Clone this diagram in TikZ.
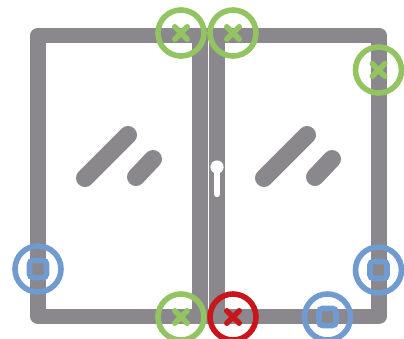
\documentclass[tikz,border=0pt]{standalone}
\usetikzlibrary{shapes.misc}
\definecolor{framegray}{HTML}{8A888D}
\definecolor{okgreen}{HTML}{92C562}
\definecolor{badred}{HTML}{C8161D}
\definecolor{pinblue}{HTML}{6F9BD1}

\begin{document}
\begin{tikzpicture}[
        x=0.025cm, y=-0.025cm,
        frameline/.style={draw=framegray, line width=0.375cm, line join=round},
        glare/.style={draw=framegray, line width=0.45cm, line cap=round},
        ring/.style={circle, draw=#1, line width=0.14cm, minimum size=1.15cm, inner sep=0pt},
        crossmark/.style={cross out, draw=#1, line width=0.14cm, line cap=round, minimum size=0.31cm, inner sep=0pt, outer sep=0pt},
        squaremark/.style={rectangle, rounded corners=2.5pt, draw=pinblue, line width=0.14cm, minimum size=0.425cm, inner sep=0pt}
    ]
    \useasboundingbox (0, 0) rectangle (404, 338);

    % Window frame and middle posts
    \draw[frameline] (38, 35) rectangle (379, 316.5);
    \fill[framegray] (192, 27.5) rectangle (225, 324);
    \draw[white, line width=0.03cm] (208.3, 27.5) -- (208.3, 324);

    % Glass reflections
    \draw[glare] (85, 178) -- (128, 135);
    \draw[glare] (136, 177) -- (153, 159);
    \draw[glare] (264, 178) -- (307, 135);
    \draw[glare] (315, 177) -- (332, 159);

    % Handle keyhole
    \fill[white] (217, 167) circle (0.165cm);
    \draw[white, line width=0.16cm, line cap=round] (217, 170) -- (217, 194);

    % Green locking points
    \node[ring=okgreen] (topleft) at (181, 33) {};
    \node[crossmark=okgreen] (topleftx) at (181, 33) {};
    \node[ring=okgreen] (topright) at (233, 33) {};
    \node[crossmark=okgreen] (toprightx) at (233, 33) {};
    \node[ring=okgreen] (side) at (378.5, 70) {};
    \node[crossmark=okgreen] (sidex) at (378.5, 70) {};
    \node[ring=okgreen] (bottomleft) at (181, 317) {};
    \node[crossmark=okgreen] (bottomleftx) at (181, 317) {};

    % Red locking point
    \node[ring=badred] (bottomright) at (233, 317) {};
    \node[crossmark=badred] (bottomrightx) at (233, 317) {};

    % Blue hinges
    \node[ring=pinblue] (hingeleft) at (38, 269) {};
    \node[squaremark] (hingeleftq) at (38, 269) {};
    \node[ring=pinblue] (hingeright) at (378.5, 270) {};
    \node[squaremark] (hingerightq) at (378.5, 270) {};
    \node[ring=pinblue] (hingebottom) at (327.5, 317) {};
    \node[squaremark] (hingebottomq) at (327.5, 317) {};
\end{tikzpicture}
\end{document}
